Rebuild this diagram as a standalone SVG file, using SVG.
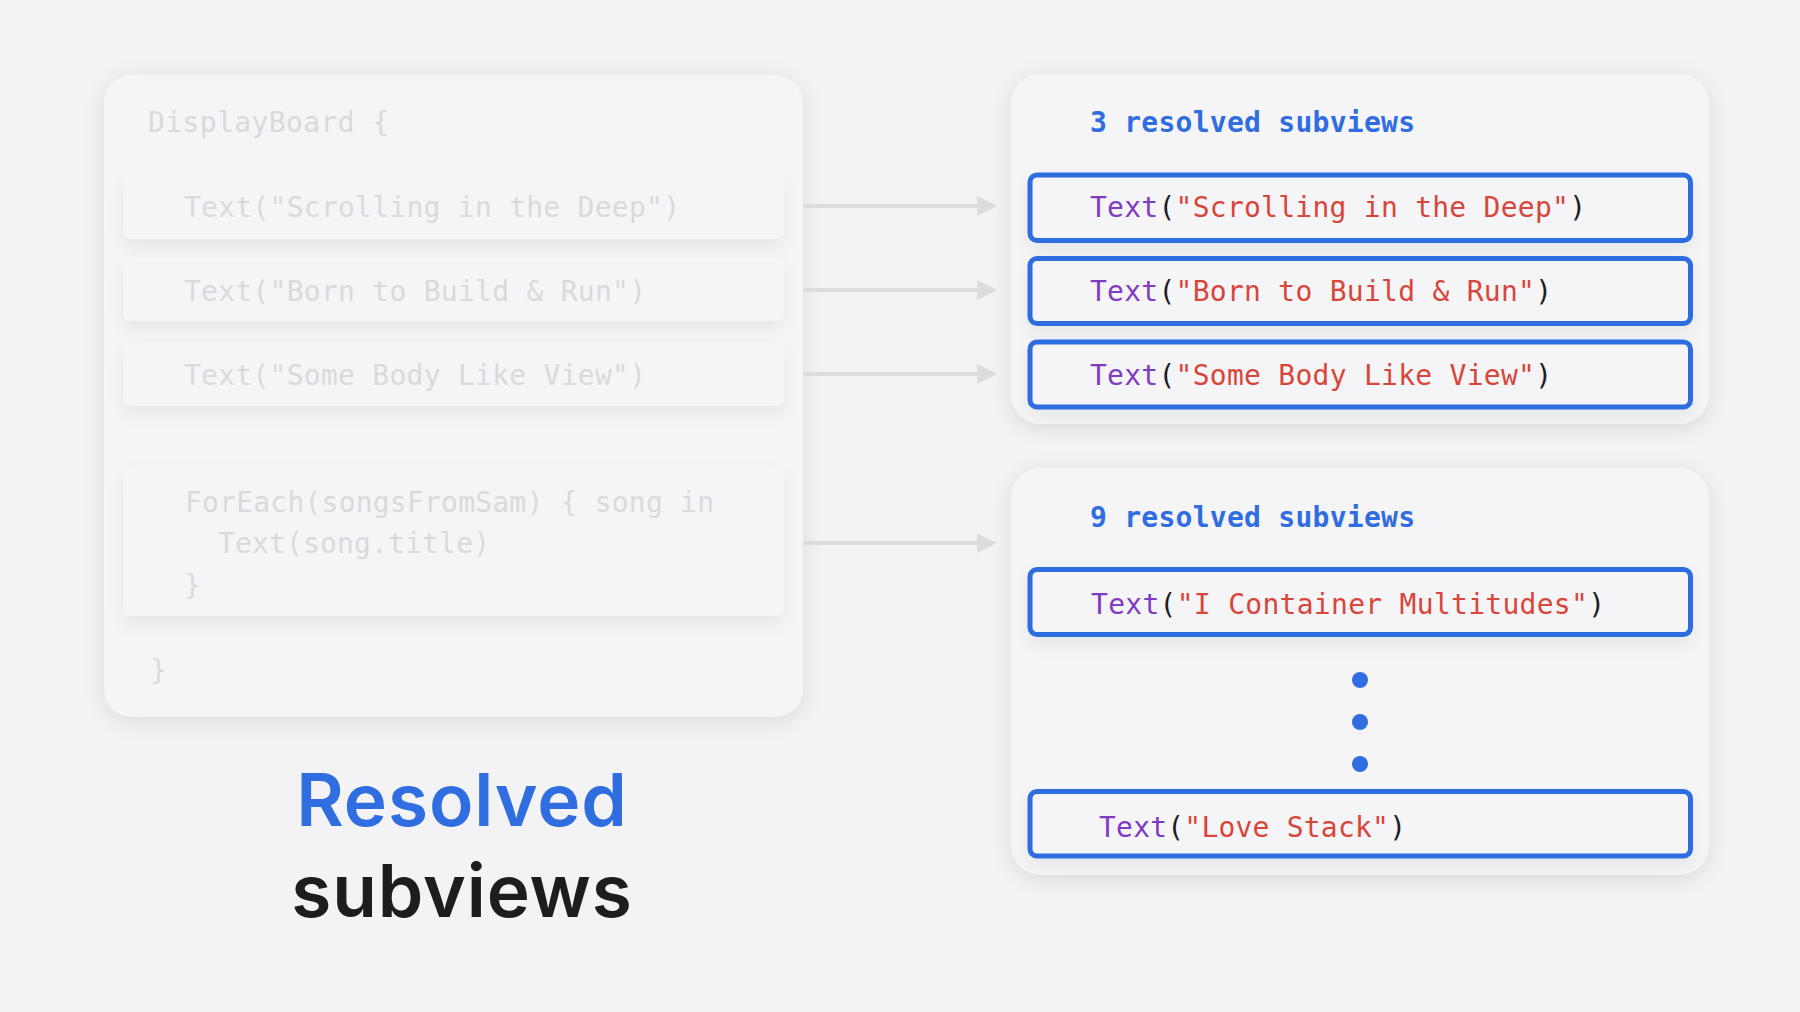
<svg xmlns="http://www.w3.org/2000/svg" width="1800" height="1012" viewBox="0 0 1800 1012">
  <defs>
    <filter id="cardShadow" x="-10%" y="-10%" width="120%" height="125%">
      <feDropShadow dx="0" dy="4" stdDeviation="10" flood-color="#000" flood-opacity="0.10"/>
    </filter>
    <filter id="rowShadow" x="-5%" y="-20%" width="110%" height="160%">
      <feDropShadow dx="0" dy="8" stdDeviation="8" flood-color="#000" flood-opacity="0.06"/>
    </filter>
    <marker id="arrowHead" viewBox="0 0 20 20" markerUnits="userSpaceOnUse" markerWidth="20" markerHeight="20" refX="2" refY="10" orient="auto">
      <path d="M0,0 L20,10 L0,20 z" fill="#dcdcde"/>
    </marker>
    <style>
      .bg { fill: #f3f3f5; }
      .card { fill: #f5f5f7; filter: url(#cardShadow); }
      .row { fill: #f5f5f7; filter: url(#rowShadow); }
      .sel { fill: #f5f5f7; stroke: #2f6de0; stroke-width: 5; filter: url(#rowShadow); }
      .mono { font-family: "DejaVu Sans Mono", "Liberation Mono", monospace; font-size: 28px; }
      .ghost { fill: #dadadc; }
      .hdr { fill: #2f6de0; font-weight: bold; }
      .kw { fill: #7f3bc2; }
      .pn { fill: #1d1d1f; }
      .st { fill: #d8463a; }
      .dot { fill: #2f6de0; }
      .conn { stroke: #dcdcde; stroke-width: 4; fill: none; marker-end: url(#arrowHead); }
      .title { font-family: Inter, "Liberation Sans", sans-serif; font-size: 73px; font-weight: 600; letter-spacing: 0.9px; text-anchor: middle; }
    </style>
  </defs>

  <rect class="bg" x="0" y="0" width="1800" height="1012"/>

  <g id="displayboard">
    <rect class="card" x="104" y="75" width="699" height="642" rx="28"/>
    <text class="mono ghost" x="148" y="132" textLength="241" lengthAdjust="spacing">DisplayBoard {</text>
    <text class="mono ghost" x="150" y="680">}</text>
  </g>

  <g id="src-row-1">
    <rect class="row" x="123" y="174" width="661" height="65" rx="8"/>
    <text class="mono ghost" x="184" y="217" textLength="496" lengthAdjust="spacing">Text("Scrolling in the Deep")</text>
  </g>
  <g id="src-row-2">
    <rect class="row" x="123" y="257" width="661" height="64" rx="8"/>
    <text class="mono ghost" x="184" y="301" textLength="462" lengthAdjust="spacing">Text("Born to Build &amp; Run")</text>
  </g>
  <g id="src-row-3">
    <rect class="row" x="123" y="342" width="661" height="64" rx="8"/>
    <text class="mono ghost" x="184" y="385" textLength="462" lengthAdjust="spacing">Text("Some Body Like View")</text>
  </g>
  <g id="src-foreach">
    <rect class="row" x="123" y="466" width="661" height="150" rx="8"/>
    <text class="mono ghost" x="185" y="512" textLength="529" lengthAdjust="spacing">ForEach(songsFromSam) { song in</text>
    <text class="mono ghost" x="218" y="553" textLength="272" lengthAdjust="spacing">Text(song.title)</text>
    <text class="mono ghost" x="184" y="595">}</text>
  </g>

  <g id="connectors">
    <line class="conn" x1="803" y1="206" x2="979" y2="206"/>
    <line class="conn" x1="803" y1="290" x2="979" y2="290"/>
    <line class="conn" x1="803" y1="374" x2="979" y2="374"/>
    <line class="conn" x1="803" y1="543" x2="979" y2="543"/>
  </g>

  <g id="resolved-3">
    <rect class="card" x="1011" y="74" width="698" height="350" rx="30"/>
    <text class="mono hdr" x="1090" y="132" textLength="325" lengthAdjust="spacing">3 resolved subviews</text>
  </g>
  <g id="res-row-1">
    <rect class="sel" x="1030" y="175" width="660.5" height="65.5" rx="7"/>
    <text class="mono" x="1090" y="217" textLength="496" lengthAdjust="spacing"><tspan class="kw">Text</tspan><tspan class="pn">(</tspan><tspan class="st">"Scrolling in the Deep"</tspan><tspan class="pn">)</tspan></text>
  </g>
  <g id="res-row-2">
    <rect class="sel" x="1030" y="258.5" width="660.5" height="65" rx="7"/>
    <text class="mono" x="1090" y="301" textLength="462" lengthAdjust="spacing"><tspan class="kw">Text</tspan><tspan class="pn">(</tspan><tspan class="st">"Born to Build &amp; Run"</tspan><tspan class="pn">)</tspan></text>
  </g>
  <g id="res-row-3">
    <rect class="sel" x="1030" y="342" width="660.5" height="65" rx="7"/>
    <text class="mono" x="1090" y="385" textLength="462" lengthAdjust="spacing"><tspan class="kw">Text</tspan><tspan class="pn">(</tspan><tspan class="st">"Some Body Like View"</tspan><tspan class="pn">)</tspan></text>
  </g>

  <g id="resolved-9">
    <rect class="card" x="1011" y="468" width="698" height="407" rx="30"/>
    <text class="mono hdr" x="1090" y="527" textLength="325" lengthAdjust="spacing">9 resolved subviews</text>
    <circle class="dot" cx="1360" cy="680" r="8"/>
    <circle class="dot" cx="1360" cy="722" r="8"/>
    <circle class="dot" cx="1360" cy="764" r="8"/>
  </g>
  <g id="res-row-first">
    <rect class="sel" x="1030" y="569.5" width="660.5" height="65" rx="7"/>
    <text class="mono" x="1091" y="614" textLength="514" lengthAdjust="spacing"><tspan class="kw">Text</tspan><tspan class="pn">(</tspan><tspan class="st">"I Container Multitudes"</tspan><tspan class="pn">)</tspan></text>
  </g>
  <g id="res-row-last">
    <rect class="sel" x="1030" y="791.5" width="660.5" height="64.5" rx="7"/>
    <text class="mono" x="1099" y="837" textLength="307" lengthAdjust="spacing"><tspan class="kw">Text</tspan><tspan class="pn">(</tspan><tspan class="st">"Love Stack"</tspan><tspan class="pn">)</tspan></text>
  </g>

  <g id="title">
    <text class="title" x="462" y="826" fill="#2f6de0">Resolved</text>
    <text class="title" x="462" y="917" fill="#1d1d1f">subviews</text>
  </g>
</svg>
